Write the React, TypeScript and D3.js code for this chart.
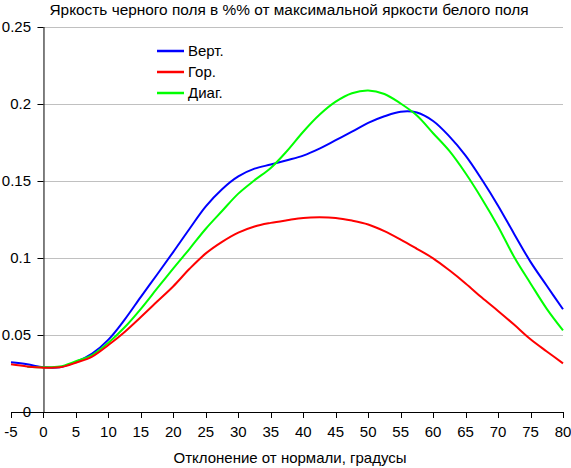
import * as d3 from "d3";

const W = 571;
const H = 468;

// angle grid, degrees
const angles = [
  -5, -2.5, 0, 2.5, 5, 7.5, 10, 12.5, 15, 17.5, 20, 22.5, 25, 27.5, 30, 32.5, 35,
  37.5, 40, 42.5, 45, 47.5, 50, 52.5, 55, 57.5, 60, 62.5, 65, 67.5, 70, 72.5, 75,
  77.5, 80,
];

const vert = [
  0.0323, 0.031, 0.029, 0.029, 0.0325, 0.038, 0.047, 0.06, 0.0748, 0.0893, 0.104,
  0.119, 0.1335, 0.1447, 0.153, 0.158, 0.1607, 0.1635, 0.1665, 0.171, 0.1765, 0.182,
  0.1877, 0.192, 0.195, 0.1945, 0.189, 0.179, 0.1665, 0.151, 0.134, 0.1155, 0.0975,
  0.082, 0.0667,
];

const gor = [
  0.031, 0.0296, 0.0288, 0.029, 0.032, 0.036, 0.0435, 0.052, 0.0617, 0.0717, 0.0817,
  0.093, 0.103, 0.1105, 0.1165, 0.1205, 0.1228, 0.1245, 0.126, 0.1264, 0.126, 0.1243,
  0.1218, 0.1175, 0.112, 0.106, 0.0998, 0.092, 0.0835, 0.0743, 0.0656, 0.0566,
  0.0472, 0.0393, 0.0316,
];

const diag = [
  null, 0.0294, 0.029, 0.0295, 0.033, 0.037, 0.045, 0.055, 0.067, 0.0802, 0.0933,
  0.106, 0.119, 0.1305, 0.1418, 0.1505, 0.1585, 0.1695, 0.182, 0.193, 0.2015, 0.207,
  0.2088, 0.2065, 0.2003, 0.1925, 0.181, 0.1695, 0.155, 0.1385, 0.1205, 0.1005,
  0.0835, 0.067, 0.053,
];

const xTicks = d3.range(-5, 81, 5);
const yTicks = [0, 0.05, 0.1, 0.15, 0.2, 0.25];

const series = [
  { name: "Верт.", color: "#0000ff", values: vert },
  { name: "Гор.", color: "#ff0000", values: gor },
  { name: "Диаг.", color: "#00ff00", values: diag },
];
// draw order: blue, green, red
const drawOrder = [0, 2, 1];

const font = "Arial, 'Liberation Sans', sans-serif";

export default function App() {
  const x = d3.scaleLinear().domain([-5, 80]).range([11, 563]);
  const y = d3.scaleLinear().domain([0, 0.25]).range([412, 27]);

  const line = d3
    .line<[number, number | null]>()
    .defined((d) => d[1] != null)
    .x((d) => x(d[0]))
    .y((d) => y(d[1] as number))
    .curve(d3.curveCatmullRom);

  return (
    <div style={{ position: "absolute", left: 0, top: 0 }}>
      <svg width={W} height={H} style={{ display: "block", background: "#fff" }}>
        <text x={289} y={15} textAnchor="middle" fontFamily={font} fontSize={15.4}>
          Яркость черного поля в %% от максимальной яркости белого поля
        </text>

        {yTicks.map((t) => (
          <g key={t}>
            {t > 0 && (
              <line x1={x(0)} x2={x(80)} y1={y(t) + 0.5} y2={y(t) + 0.5} stroke="#c0c0c0" />
            )}
            <line x1={x(0) - 6} x2={x(0)} y1={y(t) + 0.5} y2={y(t) + 0.5} stroke="#000" />
            <text
              x={31}
              y={y(t) + 5}
              textAnchor="end"
              fontFamily={font}
              fontSize={15}
            >
              {t === 0 ? "0" : String(t)}
            </text>
          </g>
        ))}

        <line x1={x(0) + 0.5} x2={x(0) + 0.5} y1={y(0.25)} y2={y(0)} stroke="#000" />
        <line x1={x(-5)} x2={x(80)} y1={y(0) + 0.5} y2={y(0) + 0.5} stroke="#000" />
        {xTicks.map((t) => (
          <g key={t}>
            <line
              x1={Math.round(x(t)) + 0.5}
              x2={Math.round(x(t)) + 0.5}
              y1={y(0)}
              y2={y(0) + 6}
              stroke="#000"
            />
            <text x={x(t)} y={437} textAnchor="middle" fontFamily={font} fontSize={15}>
              {t}
            </text>
          </g>
        ))}

        <text x={290} y={463} textAnchor="middle" fontFamily={font} fontSize={15}>
          Отклонение от нормали, градусы
        </text>

        {drawOrder.map((i) => {
          const s = series[i];
          const pts = angles.map((a, j) => [a, s.values[j]] as [number, number | null]);
          return (
            <path
              key={s.name}
              d={line(pts) ?? ""}
              fill="none"
              stroke={s.color}
              strokeWidth={2}
            />
          );
        })}

        {series.map((s, i) => (
          <g key={s.name} transform={`translate(157,${51 + i * 21})`}>
            <line x1={0} x2={27} y1={0} y2={0} stroke={s.color} strokeWidth={2.5} />
            <text x={31} y={5} fontFamily={font} fontSize={15}>
              {s.name}
            </text>
          </g>
        ))}
      </svg>
    </div>
  );
}
